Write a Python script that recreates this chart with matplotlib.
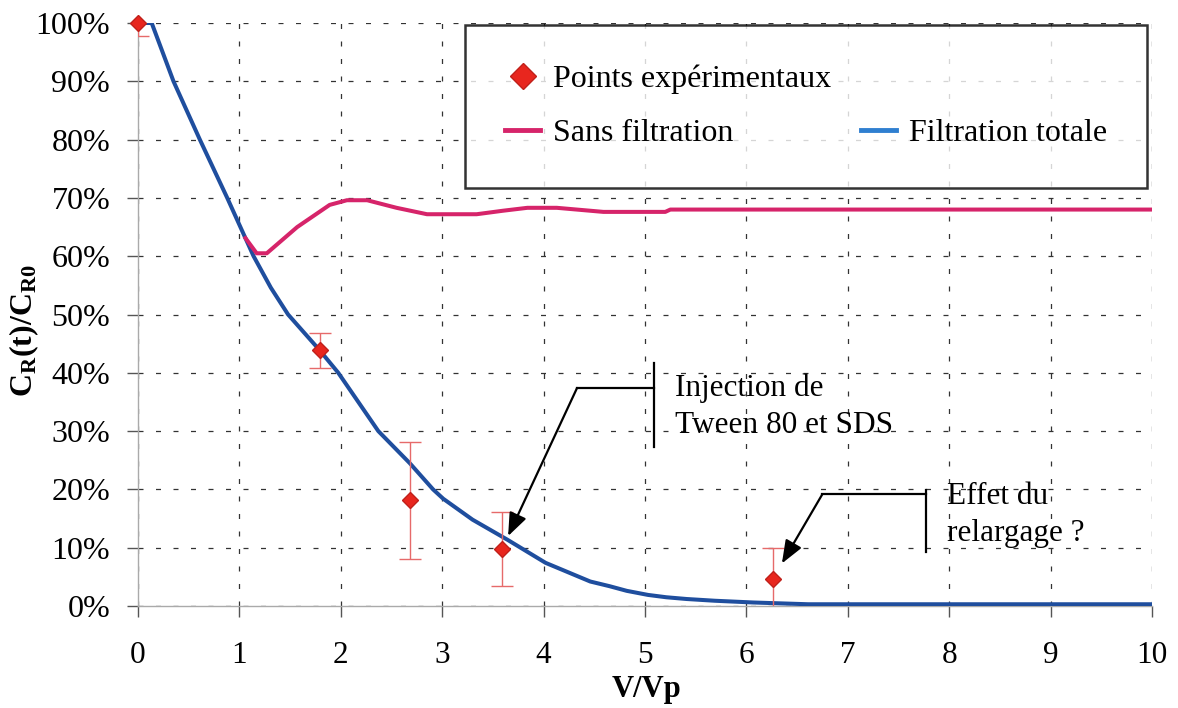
import matplotlib
matplotlib.use("Agg")
import matplotlib.pyplot as plt
from matplotlib.lines import Line2D
from matplotlib.ticker import FuncFormatter

# ---- data ----
filt_x = [0, 0.135, 0.35, 0.61, 0.88, 1.14, 1.31, 1.48, 1.79, 1.975, 2.37, 2.68, 2.91, 3.01, 3.3, 3.64, 4.02, 4.46,
          4.65, 4.82, 5.03, 5.21, 5.41, 5.69, 6.07, 6.61, 10.0]
filt_y = [100, 100, 90, 80, 70, 60, 54.6, 50, 43.9, 40.0, 30.0, 24.5, 20.0, 18.4, 14.8, 11.4, 7.4, 4.2,
          3.4, 2.6, 1.9, 1.5, 1.2, 0.9, 0.6, 0.3, 0.3]

sans_x = [1.06, 1.17, 1.27, 1.57, 1.89, 2.06, 2.26, 2.55, 2.85, 3.34, 3.60, 3.84, 4.13, 4.59, 5.2, 5.25, 10.0]
sans_y = [63.1, 60.5, 60.5, 65.0, 68.8, 69.6, 69.6, 68.3, 67.2, 67.2, 67.8, 68.3, 68.3, 67.6, 67.6, 68.0, 68.0]

pts_x = [0.0, 1.79, 2.68, 3.59, 6.26]
pts_y = [100.0, 43.9, 18.1, 9.8, 4.6]
pts_err = [2.2, 3.0, 10.0, 6.4, 5.3]

x_ticks = list(range(0, 11))
y_ticks = list(range(0, 101, 10))

plt.rcParams['font.family'] = ['Liberation Serif', 'DejaVu Serif']
plt.rcParams['mathtext.fontset'] = 'custom'
plt.rcParams['mathtext.rm'] = 'Liberation Serif'
plt.rcParams['mathtext.bf'] = 'Liberation Serif:bold'

W, H = 1178, 708
x0px, x10px, y0px, y100px = 138, 1152, 606, 23
fig = plt.figure(figsize=(W/100, H/100), dpi=100)
ax = fig.add_axes([x0px/W, 1-y0px/H, (x10px-x0px)/W, (y0px-y100px)/H])

blue = '#1f4e9e'
pink = '#d6246a'
red = '#e8261e'

ax.plot(filt_x, filt_y, color=blue, lw=2.9, zorder=3, solid_joinstyle='round')
ax.plot(sans_x, sans_y, color=pink, lw=2.9, zorder=3)
ax.errorbar(pts_x, pts_y, yerr=pts_err, fmt='none', ecolor='#e66a6a', elinewidth=1.0,
            capsize=8, capthick=1.0, zorder=4)
ax.plot(pts_x, pts_y, linestyle='none', marker='D', markersize=8, color=red,
        markeredgecolor='#c0201a', zorder=5, clip_on=False)

ax.set_xlim(0, 10)
ax.set_ylim(0, 100)
ax.set_xticks(x_ticks)
ax.set_yticks(y_ticks)
ax.yaxis.set_major_formatter(FuncFormatter(lambda v, p: f"{int(v)}%"))
ax.tick_params(axis='both', direction='out', length=8, width=1, color='#555555')
ax.tick_params(axis='y', labelsize=23, pad=12)
ax.tick_params(axis='x', labelsize=22.5, pad=17)

for s in ['top', 'right']:
    ax.spines[s].set_visible(False)
for s in ['left', 'bottom']:
    ax.spines[s].set_color('#aaaaaa')
    ax.spines[s].set_linewidth(1)

ax.grid(True, which='major', color='#333333', linestyle=(0, (4, 10)), linewidth=0.9)
ax.set_axisbelow(True)

ax.set_xlabel('V/Vp', fontsize=22, fontweight='bold')
ax.xaxis.set_label_coords((646-x0px)/(x10px-x0px), -(675-y0px)/(y0px-y100px))
ax.set_ylabel(r'$\mathbf{C_R(t)/C_{R0}}$', fontsize=23)
ax.yaxis.set_label_coords(-(x0px-41)/(x10px-x0px), (y0px-330)/(y0px-y100px))

arrow_style = dict(arrowstyle='-|>,head_length=1.4,head_width=0.55', color='black', lw=1.6,
                   shrinkA=0, shrinkB=0)

# annotations
ax.plot([5.09, 5.09], [27.3, 41.7], color='black', lw=1.6, zorder=6)
ax.plot([4.33, 5.09], [37.4, 37.4], color='black', lw=1.6, zorder=6)
ax.annotate('', xy=(3.65, 12.0), xytext=(4.33, 37.4), arrowprops=arrow_style, zorder=6)
ax.text(5.30, 37.4, 'Injection de', fontsize=22.5, va='center', ha='left')
ax.text(5.30, 31.0, 'Tween 80 et SDS', fontsize=22.5, va='center', ha='left')

ax.plot([7.77, 7.77], [9.3, 19.9], color='black', lw=1.6, zorder=6)
ax.plot([6.75, 7.77], [19.2, 19.2], color='black', lw=1.6, zorder=6)
ax.annotate('', xy=(6.35, 7.3), xytext=(6.75, 19.2), arrowprops=arrow_style, zorder=6)
ax.text(7.98, 18.7, 'Effet du', fontsize=22.5, va='center', ha='left')
ax.text(7.98, 12.5, 'relargage ?', fontsize=22.5, va='center', ha='left')

# legend
h_pts = Line2D([], [], linestyle='none', marker='D', markersize=13, color=red, markeredgecolor='#c0201a')
h_sans = Line2D([], [], color=pink, lw=3.5)
h_filt = Line2D([], [], color='#2f7fd0', lw=3.5)
h_empty = Line2D([], [], linestyle='none')
lx0 = (465-x0px)/(x10px-x0px)
lw_ = (1147-465)/(x10px-x0px)
ltop = 1 - 2/583
leg = ax.legend([h_pts, h_sans, h_empty, h_filt],
                ['Points expérimentaux', 'Sans filtration', '', 'Filtration totale'],
                ncol=2, loc='upper left', bbox_to_anchor=(lx0, ltop - 0.01, lw_, 0.01),
                mode='expand', borderaxespad=0, fontsize=23, frameon=True, fancybox=False,
                edgecolor='black', borderpad=1.25, labelspacing=0.75, handlelength=1.1,
                handletextpad=0.4, columnspacing=1.0)
leg.get_frame().set_linewidth(1.8)
leg.set_zorder(10)

fig.savefig('out.png', dpi=100)
